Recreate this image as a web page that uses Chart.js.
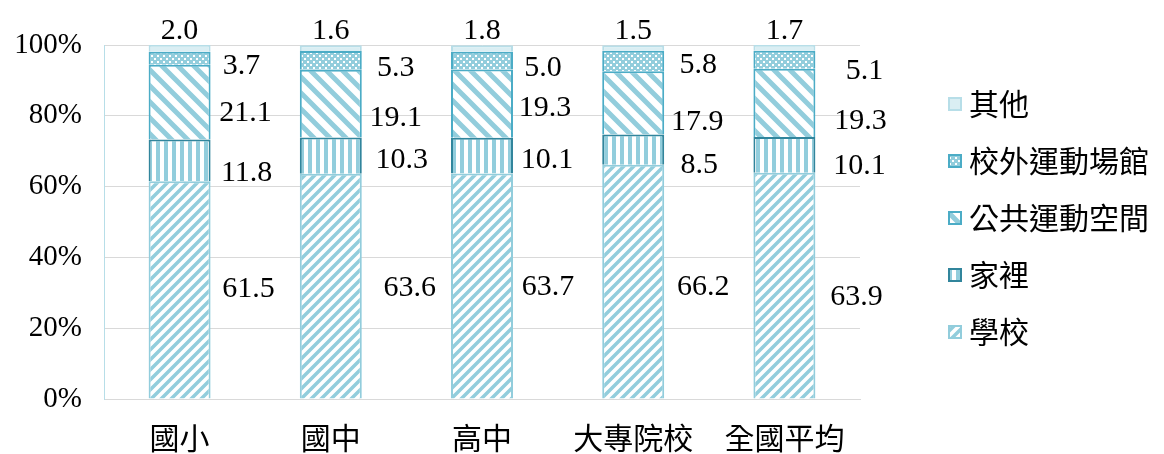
<!DOCTYPE html>
<html>
<head>
<meta charset="utf-8">
<script src="https://cdn.jsdelivr.net/npm/chart.js@4.4.0/dist/chart.umd.min.js"></script>
<style>
  html, body { margin: 0; background: #fff; }
  #wrap { width: 1164px; height: 454px; }
</style>
</head>
<body>
<div id="wrap"><canvas id="placeChart"></canvas></div>
<script>
// 運動場所分布 (%)
const categories = ['國小', '國中', '高中', '大專院校', '全國平均'];
const seriesNames = ['學校', '家裡', '公共運動空間', '校外運動場館', '其他'];
const school = [61.5, 63.6, 63.7, 66.2, 63.9];
const home = [11.8, 10.3, 10.1, 8.5, 10.1];
const publicSpace = [21.1, 19.1, 19.3, 17.9, 19.3];
const outsideVenue = [3.7, 5.3, 5.0, 5.8, 5.1];
const other = [2.0, 1.6, 1.8, 1.5, 1.7];
const yTicks = [0, 20, 40, 60, 80, 100];

// label nudges [dx, dy] per category, for 學校 / 家裡 / 公共 / 校外
const labelNudge = [
    [[2, -1], [0, 13], [-1, 11], [-5, 8]],
    [[12, 2], [4, 4], [-2, 15], [-2, 8]],
    [[-1, 1], [-2, 4], [-4, 5], [-6, 8]],
    [[3, 6], [-1, 16], [-3, 19], [-2, 4]],
    [[5, 11], [8, 11], [9, 18], [13, 11]]
];

const BLUE = '#92cddc';
const numFont = '"Liberation Serif", "Times New Roman", serif';
const cjkFont = '"Noto Sans CJK TC", "Liberation Serif", sans-serif';

function makePattern(size, draw) {
    const c = document.createElement('canvas');
    c.width = size; c.height = size;
    const g = c.getContext('2d');
    g.fillStyle = '#fff';
    g.fillRect(0, 0, size, size);
    draw(g, size);
    return g.createPattern(c, 'repeat');
}

// 學校: 斜線 /
const patSchool = makePattern(10, (g, s) => {
    g.strokeStyle = BLUE; g.lineWidth = 3.5;
    g.beginPath();
    g.moveTo(-2, s + 2); g.lineTo(s + 2, -2);
    g.moveTo(-2, 2); g.lineTo(2, -2);
    g.moveTo(s - 2, s + 2); g.lineTo(s + 2, s - 2);
    g.stroke();
});
// 家裡: 直線
const patHome = makePattern(8, (g, s) => {
    g.fillStyle = BLUE;
    g.fillRect(4, 0, 4, s);
});
// 公共運動空間: 斜線 \
const patPublic = makePattern(16, (g, s) => {
    g.strokeStyle = BLUE; g.lineWidth = 5;
    g.beginPath();
    g.moveTo(-2, -2); g.lineTo(s + 2, s + 2);
    g.moveTo(s - 3, -3); g.lineTo(s + 3, 3);
    g.moveTo(-3, s - 3); g.lineTo(3, s + 3);
    g.stroke();
});
// 校外運動場館: 點
const patOutside = makePattern(6, (g, s) => {
    g.fillStyle = BLUE;
    g.fillRect(0, 0, s, s);
    g.fillStyle = '#fff';
    g.fillRect(1, 1, 2, 2);
    g.fillRect(4, 4, 2, 2);
});

const valueLabels = {
    id: 'valueLabels',
    afterDatasetsDraw(chart) {
        const ctx = chart.ctx;
        ctx.save();
        ctx.font = '30px ' + numFont;
        ctx.fillStyle = '#000';
        ctx.textAlign = 'center';
        ctx.textBaseline = 'middle';
        chart.data.datasets.forEach((ds, i) => {
            chart.getDatasetMeta(i).data.forEach((bar, j) => {
                const txt = ds.data[j].toFixed(1);
                if (i === 4) {
                    ctx.fillText(txt, bar.x, bar.y - 14);
                    return;
                }
                const [dx, dy] = labelNudge[j][i];
                ctx.fillText(txt, bar.x + bar.width / 2 + 36 + dx, (bar.y + bar.base) / 2 + dy);
            });
        });
        ctx.restore();
    }
};

// 圖例 (右側, 由上而下: 其他 → 學校)
const sideLegend = {
    id: 'sideLegend',
    afterDraw(chart) {
        const ctx = chart.ctx;
        const area = chart.chartArea;
        const x = area.right + 88;
        const midY = (area.top + area.bottom) / 2 - 4;
        const step = 57;
        const ds = chart.data.datasets;
        ctx.save();
        ctx.font = '30px ' + cjkFont;
        ctx.fillStyle = '#000';
        ctx.textBaseline = 'middle';
        for (let k = 0; k < ds.length; k++) {
            const d = ds[ds.length - 1 - k];
            const cy = midY + (k - (ds.length - 1) / 2) * step;
            ctx.fillStyle = d.backgroundColor;
            ctx.fillRect(x, cy - 7, 14, 14);
            ctx.strokeStyle = d.borderColor;
            ctx.lineWidth = 2;
            ctx.strokeRect(x + 1, cy - 6, 12, 12);
            ctx.fillStyle = '#000';
            ctx.fillText(d.label, x + 21, cy);
        }
        ctx.restore();
    }
};

const ctx = document.getElementById('placeChart').getContext('2d');
new Chart(ctx, {
    type: 'bar',
    data: {
        labels: categories,
        datasets: [
            { label: seriesNames[0], data: school, backgroundColor: patSchool, borderColor: BLUE, borderWidth: 2 },
            { label: seriesNames[1], data: home, backgroundColor: patHome, borderColor: '#31859c', borderWidth: 2 },
            { label: seriesNames[2], data: publicSpace, backgroundColor: patPublic, borderColor: '#4bacc6', borderWidth: 2 },
            { label: seriesNames[3], data: outsideVenue, backgroundColor: patOutside, borderColor: '#4bacc6', borderWidth: 2 },
            { label: seriesNames[4], data: other, backgroundColor: '#daeef3', borderColor: '#b7dee8', borderWidth: 2 }
        ]
    },
    options: {
        responsive: true,
        maintainAspectRatio: false,
        animation: false,
        layout: { padding: { top: 45, right: 304, bottom: 0, left: 0 } },
        datasets: { bar: { barPercentage: 0.41, categoryPercentage: 1 } },
        plugins: {
            legend: { display: false },
            tooltip: { enabled: false }
        },
        scales: {
            x: {
                stacked: true,
                grid: { display: false },
                border: { color: '#d9d9d9' },
                ticks: { padding: 13, color: '#000', maxRotation: 0, font: { family: cjkFont, size: 30 } },
                afterFit(s) { s.height = 55; }
            },
            y: {
                stacked: true,
                min: 0,
                max: 100,
                border: { color: '#b7dee8' },
                grid: { color: '#d9d9d9', drawTicks: false },
                afterBuildTicks(s) { s.ticks = yTicks.map(v => ({ value: v })); },
                ticks: { padding: 22, color: '#000', font: { family: numFont, size: 29 }, callback: v => v + '%' },
                afterFit(s) { s.width = 104; }
            }
        }
    },
    plugins: [valueLabels, sideLegend]
});
</script>
</body>
</html>
